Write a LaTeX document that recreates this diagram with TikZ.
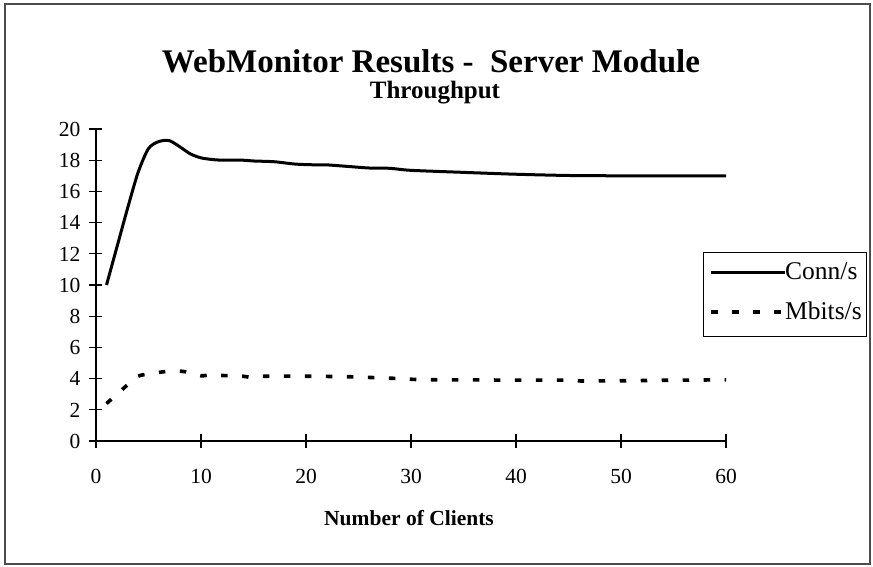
\documentclass[tikz,border=0pt]{standalone}
\usepackage{fontspec}
\setmainfont{Liberation Serif}
\begin{document}
\begin{tikzpicture}[x=1pt,y=-1pt,
  frame/.style={draw=black!70,line width=1.4pt},
  axisline/.style={draw=black,line width=1.1pt},
  ticklbl/.style={inner sep=0pt,font=\fontsize{21.5}{24}\selectfont},
  legtext/.style={inner sep=0pt,anchor=base west,font=\fontsize{25.5}{28}\selectfont},
  conn/.style={draw=black,line width=3pt,line join=round},
  mbits/.style={draw=black,line width=3.6pt,dash pattern=on 6.5pt off 14.5pt}]
% page and outer frame
\useasboundingbox (0,0) rectangle (873,567);
\fill[white] (0,0) rectangle (873,567);
\draw[frame] (5,4) rectangle (870,564);

% titles
\node[anchor=base,inner sep=0pt,font=\fontsize{33}{36}\selectfont\bfseries] (title) at (431,73) {WebMonitor Results -\ \ Server Module};
\node[anchor=base,inner sep=0pt,font=\fontsize{25}{28}\selectfont\bfseries] (subtitle) at (435,99) {Throughput};
\node[anchor=base,inner sep=0pt,font=\fontsize{21.5}{24}\selectfont\bfseries] (xtitle) at (409,525) {Number of Clients};

% axes
\coordinate (origin) at (96,441);
\coordinate (xend) at (725.7,441);
\coordinate (ytop) at (96,129);
\draw[axisline] (89,441) -- (xend);
\draw[axisline] (ytop) -- (96,448);
\foreach \v in {0,2,...,20}{
  \draw[axisline] (89,441-15.6*\v) -- (102,441-15.6*\v);
  \node[ticklbl,anchor=base east] (y\v) at (80.5,448.3-15.6*\v) {\v};
}
\foreach \c in {0,10,...,60}{
  \draw[axisline] (96+10.5*\c,434) -- (96+10.5*\c,448);
  \node[ticklbl,anchor=base] (x\c) at (96+10.5*\c,483) {\c};
}

% data series
\begin{scope}[shift={(origin)},x=10.5pt,y=15.6pt]
\draw[conn] plot[smooth,tension=0.45] coordinates {
 (1,10) (2,12.45) (3,14.9) (4,17.2) (5,18.75) (6,19.2) (7,19.25) (8,18.85)
 (9,18.4) (10,18.15) (11,18.05) (12,18.0) (14,18.0) (15,17.95) (17,17.9)
 (19,17.75) (21,17.7) (22,17.7) (24,17.6) (26,17.5) (28,17.48) (30,17.35)
 (35,17.22) (40,17.1) (45,17.02) (50,17.0) (55,17.0) (60,17.0)};
\draw[mbits] plot[smooth,tension=0.45] coordinates {
 (1,2.4) (2,3.0) (3,3.6) (4,4.15) (5,4.3) (6,4.4) (7,4.48) (8,4.48)
 (9,4.38) (10,4.18) (11,4.25) (12,4.2) (14,4.15) (15,4.05) (16,4.15)
 (20,4.15) (24,4.12) (27,4.05) (29,4.0) (31,3.93) (35,3.92) (40,3.9)
 (45,3.9) (46,3.85) (50,3.86) (55,3.9) (60,3.92)};
\end{scope}

% legend
\node[draw=black,line width=0.9pt,minimum width=163pt,minimum height=83.5pt,anchor=north west,inner sep=0pt] (legend) at (703,252.3) {};
\coordinate (c1) at (711,272);
\coordinate (c2) at (784.5,272);
\coordinate (m1) at (711,311.7);
\coordinate (m2) at (784.5,311.7);
\draw[conn,line cap=butt] (c1) -- (c2);
\draw[mbits] (m1) -- (m2);
\node[legtext] (lconn) at (785,279) {Conn/s};
\node[legtext] (lmbits) at (785,319) {Mbits/s};
\end{tikzpicture}
\end{document}
